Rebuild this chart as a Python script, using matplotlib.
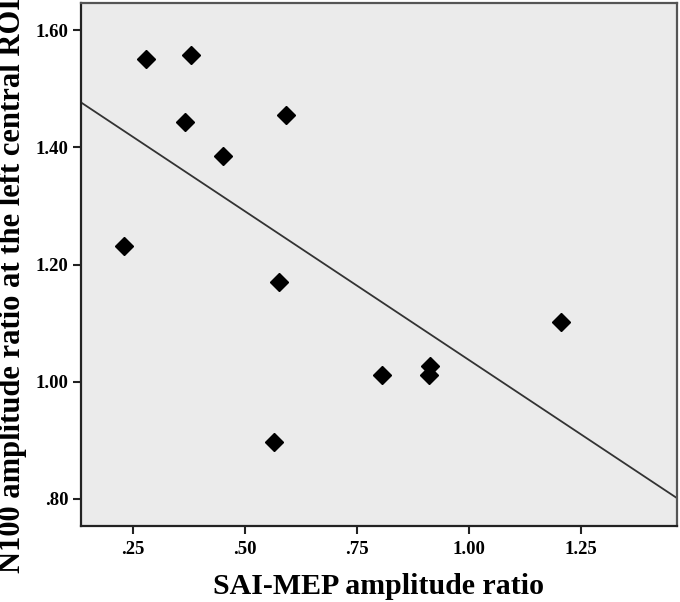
import numpy as np
import matplotlib
matplotlib.use("Agg")
import matplotlib.pyplot as plt
from matplotlib.ticker import FuncFormatter

# SAI-MEP amplitude ratio vs N100 amplitude ratio (left central ROI)
sai_mep = [0.279, 0.381, 0.367, 0.592, 0.452, 0.231, 0.577, 0.566, 0.807, 0.913, 0.912, 1.206]
n100 = [1.551, 1.557, 1.444, 1.455, 1.385, 1.232, 1.171, 0.897, 1.012, 1.027, 1.011, 1.102]

x_ticks = [0.25, 0.50, 0.75, 1.00, 1.25]
y_ticks = [0.80, 1.00, 1.20, 1.40, 1.60]


def spss_fmt(v, pos):
	s = f"{v:.2f}"
	if s.startswith("0"):
		s = s[1:]
	return s


plt.rcParams['font.family'] = ['Liberation Serif', 'DejaVu Serif']

fig = plt.figure(figsize=(6.8, 6.02), dpi=100)
ax = fig.add_axes([0.1187, 0.1267, 0.996 - 0.1187, 0.9945 - 0.1267])
ax.set_facecolor("#ebebeb")

ax.plot(sai_mep, n100, linestyle="none", marker="D", markersize=9.5, color="black", zorder=3)

# linear fit line across the whole x range
slope, icpt = np.polyfit(sai_mep, n100, 1)
xlim = (0.134, 1.466)
xs = np.array(xlim)
ax.plot(xs, slope * xs + icpt, color="#333333", linewidth=1.3, zorder=2)

ax.set_xlim(*xlim)
ax.set_ylim(0.754, 1.646)
ax.set_xticks(x_ticks)
ax.set_yticks(y_ticks)
ax.xaxis.set_major_formatter(FuncFormatter(spss_fmt))
ax.yaxis.set_major_formatter(FuncFormatter(spss_fmt))
ax.tick_params(direction="out", length=6, width=1.5, labelsize=13.5, pad=3, color="#222222")
ax.tick_params(axis="x", pad=5)
for lab in ax.get_xticklabels() + ax.get_yticklabels():
	lab.set_fontweight("semibold")

for side in ["left", "bottom"]:
	ax.spines[side].set_color("#222222")
	ax.spines[side].set_linewidth(1.6)
for side in ["top", "right"]:
	ax.spines[side].set_color("#555555")
	ax.spines[side].set_linewidth(1.6)

ax.set_xlabel("SAI-MEP amplitude ratio", fontsize=21.5, fontweight="bold", labelpad=11)
fig.text(0.019, 0.526, "N100 amplitude ratio at the left central ROI", rotation=90,
	fontsize=22, fontweight="bold", ha="center", va="center")

fig.savefig("out.png", dpi=100)
